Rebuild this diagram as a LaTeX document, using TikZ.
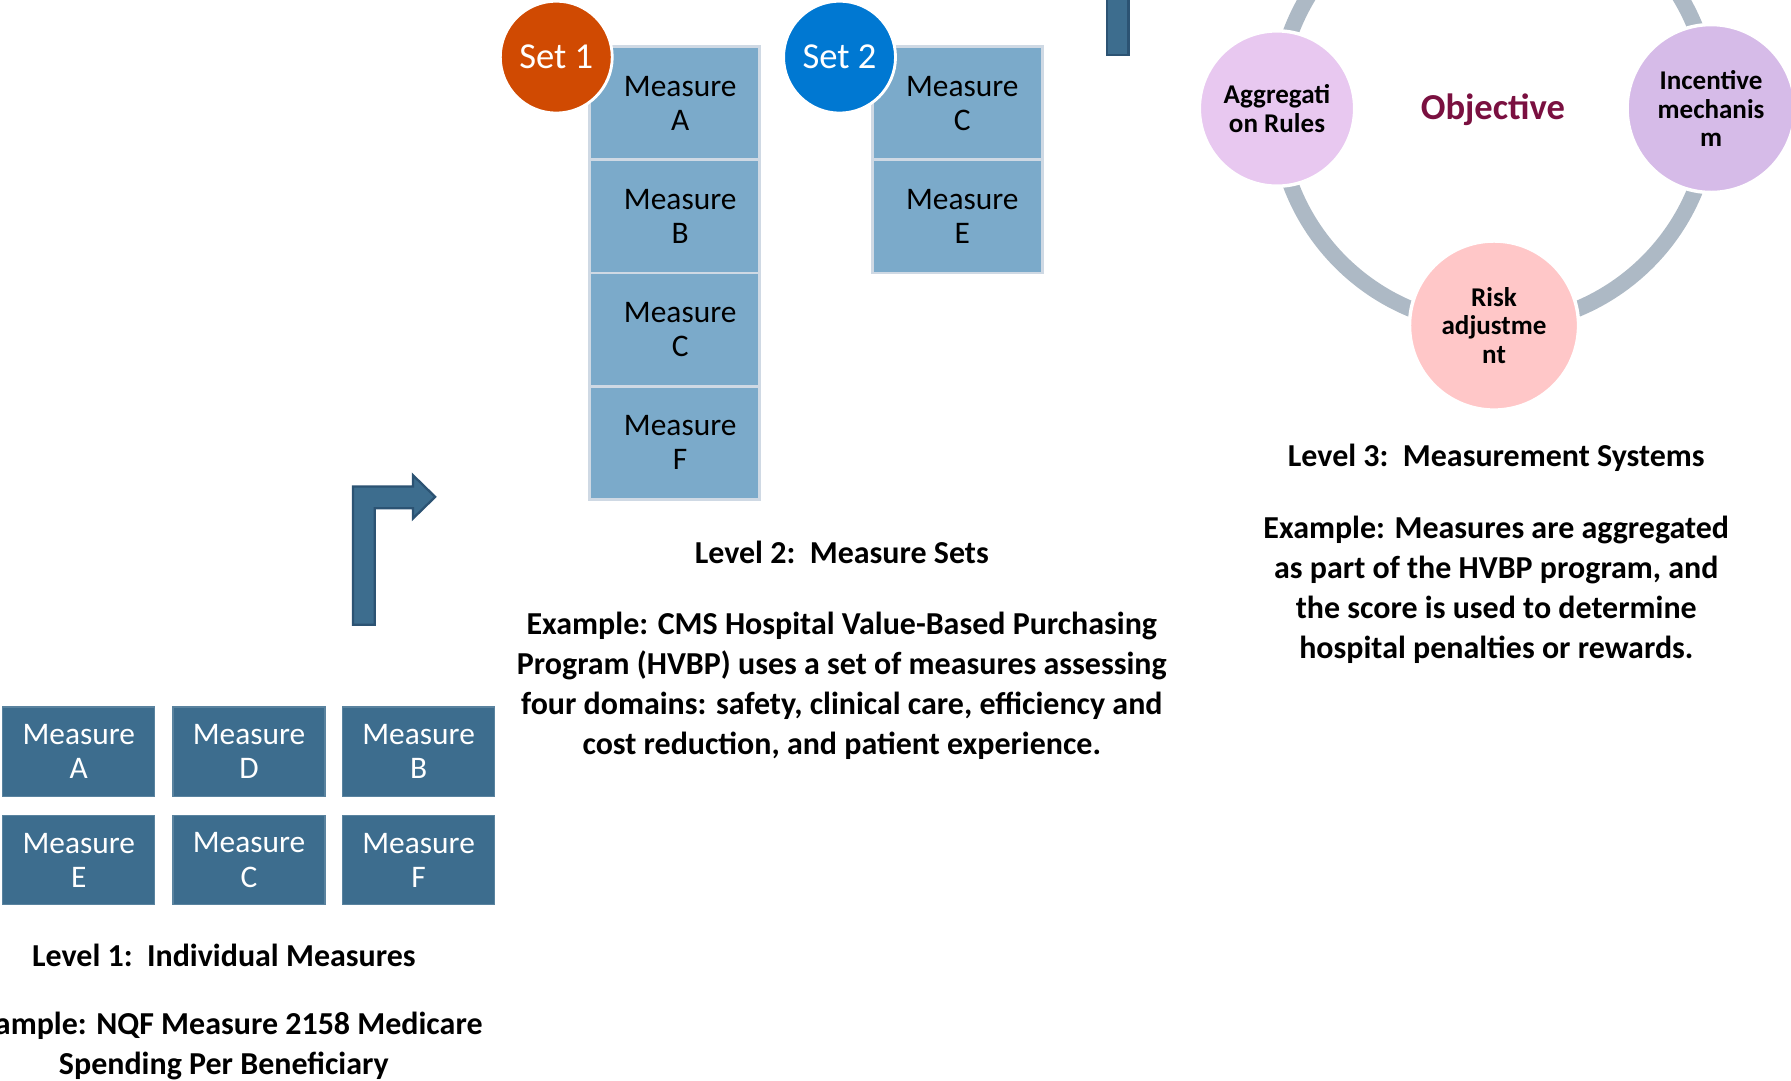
\documentclass[tikz,border=0pt]{standalone}
\usepackage{fontspec}
\setmainfont{Carlito}
\definecolor{darkbox}{HTML}{3D6D8E}
\definecolor{darkedge}{HTML}{2C5373}
\definecolor{lightbox}{HTML}{7BAACA}
\definecolor{lightedge}{HTML}{CFD9E4}
\definecolor{setone}{HTML}{D04A02}
\definecolor{settwo}{HTML}{0078D2}
\definecolor{ringgray}{HTML}{ADB9C5}
\definecolor{aggfill}{HTML}{E8C8F0}
\definecolor{incfill}{HTML}{D6BBE8}
\definecolor{riskfill}{HTML}{FFC7C8}
\definecolor{objcolor}{HTML}{7A1040}
\begin{document}
\begin{tikzpicture}[x=1pt,y=-1pt,
  lonebox/.style={rectangle, fill=darkbox, draw=darkbox!85!white, line width=1pt,
    minimum width=133pt, minimum height=78pt, inner sep=0pt, text=white,
    align=center, font=\fontsize{27.5}{30}\selectfont},
  ltwobox/.style={rectangle, fill=lightbox, draw=lightedge, line width=2.5pt,
    minimum width=149pt, minimum height=99pt, inner sep=0pt},
  ltwotext/.style={inner sep=0pt, text=black, align=center,
    font=\fontsize{27.5}{30}\selectfont},
  setcircle/.style={circle, draw=white, line width=2.5pt, minimum size=98pt,
    inner sep=0pt, text=white, font=\fontsize{32}{34}\selectfont},
  sysnode/.style={circle, draw=white, line width=3pt, inner sep=0pt,
    align=center, text=black, font=\bfseries\fontsize{23.7}{25}\selectfont},
  levellabel/.style={inner sep=0pt, align=center, font=\bfseries\fontsize{28}{35}\selectfont},
  arrowshape/.style={fill=darkbox, draw=darkedge, line width=2pt, line join=miter}
]
\useasboundingbox (0,0) rectangle (1568,946);

% ---------- Level 1 ----------
\node[lonebox] (m1a) at (69,658)    {Measure\\A};
\node[lonebox] (m1d) at (218,658)   {Measure\\D};
\node[lonebox] (m1b) at (366.5,658) {Measure\\B};
\node[lonebox] (m1e) at (69,753)    {Measure\\E};
\node[lonebox] (m1c) at (218,753)   {Measure\\C};
\node[lonebox] (m1f) at (366.5,753) {Measure\\F};

\node[levellabel] (l1lab) at (196,836) {Level 1:\ \ Individual Measures};
\node[levellabel] (l1ex) at (196,916) {Example: NQF Measure 2158 Medicare\\Spending Per Beneficiary};

% bent arrow
\draw[arrowshape] (309,547) -- (309,426) -- (361.5,426) -- (361.5,416) -- (381,435)
  -- (361.5,454) -- (361.5,445) -- (328,445) -- (328,547) -- cycle;

% ---------- Level 2 ----------
\node[ltwobox] (s1a) at (590.5,90.5)  {};
\node[ltwobox] (s1b) at (590.5,189.5) {};
\node[ltwobox] (s1c) at (590.5,288.5) {};
\node[ltwobox] (s1f) at (590.5,387.5) {};
\node[ltwobox] (s2c) at (838.5,90.5)  {};
\node[ltwobox] (s2e) at (838.5,189.5) {};
\node[ltwotext] (t1a) at ([xshift=5pt]s1a.center) {Measure\\A};
\node[ltwotext] (t1b) at ([xshift=5pt]s1b.center) {Measure\\B};
\node[ltwotext] (t1c) at ([xshift=5pt]s1c.center) {Measure\\C};
\node[ltwotext] (t1f) at ([xshift=5pt]s1f.center) {Measure\\F};
\node[ltwotext] (t2c) at ([xshift=4pt]s2c.center) {Measure\\C};
\node[ltwotext] (t2e) at ([xshift=4pt]s2e.center) {Measure\\E};

\node[setcircle, fill=setone] (set1) at (487,50) {Set 1};
\node[setcircle, fill=settwo] (set2) at (735,50) {Set 2};

\node[levellabel] (l2lab) at (737,484) {Level 2:\ \ Measure Sets};
\node[levellabel] (l2ex) at (737,600) {Example: CMS Hospital Value-Based Purchasing\\Program (HVBP) uses a set of measures assessing\\four domains: safety, clinical care, efficiency and\\cost reduction, and patient experience.};

% top bar (stem of a cut-off arrow)
\draw[arrowshape] (969,-10) -- (969,48) -- (988,48) -- (988,-10);

% ---------- Level 3 ----------
\draw[ringgray, line width=14pt] (1308,95) circle[radius=190pt];
\node[sysnode, fill=aggfill, minimum size=136pt] (agg) at (1118,95) {Aggregati\\on Rules};
\node[sysnode, fill=incfill, minimum size=147pt] (inc) at (1498,95) {Incentive\\mechanis\\m};
\node[sysnode, fill=riskfill, minimum size=148pt] (risk) at (1308,285) {Risk\\adjustme\\nt};
\node[inner sep=0pt, text=objcolor, font=\bfseries\fontsize{32}{34}\selectfont] (obj) at (1307,96) {Objective};

\node[levellabel] (l3lab) at (1310,401) {Level 3:\ \ Measurement Systems};
\node[levellabel] (l3ex) at (1310,516) {Example: Measures are aggregated\\as part of the HVBP program, and\\the score is used to determine\\hospital penalties or rewards.};
\end{tikzpicture}
\end{document}
